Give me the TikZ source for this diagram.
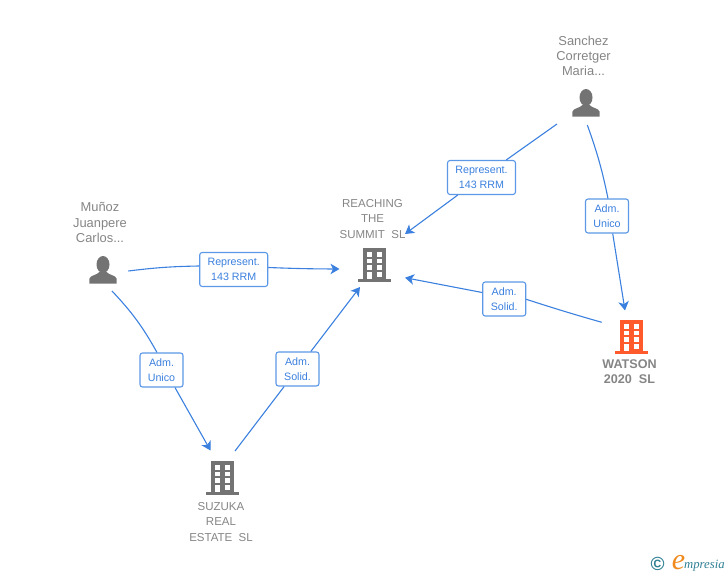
\documentclass[tikz,border=0pt]{standalone}
\usepackage{fontspec}
\setmainfont{Liberation Sans}
\newfontfamily\logofont{Liberation Serif}
\usetikzlibrary{arrows.meta}
\definecolor{linkblue}{HTML}{3B80DE}
\definecolor{boxblue}{HTML}{5C98E6}
\definecolor{namegray}{HTML}{858585}
\definecolor{icongray}{HTML}{737373}
\definecolor{iconorange}{HTML}{FF5A2B}
\definecolor{logoteal}{HTML}{2F7F93}
\definecolor{logoorange}{HTML}{F08A1D}
\tikzset{
  pics/buildingicon/.style={code={
    \fill[#1] (-11.5,-17) rectangle (11.5,14);
    \fill[#1] (-16.5,14) rectangle (16.5,17);
    \foreach \wy in {-13,-6.5,0}{
      \fill[white] (-7.8,\wy) rectangle (-2.8,\wy+4.8);
      \fill[white] (2.2,\wy) rectangle (7.2,\wy+4.8);
    }
    \fill[white] (-7.8,6.5) rectangle (-2.8,14);
    \fill[white] (2.2,6.5) rectangle (7.2,11.5);
  }},
  pics/personicon/.style={code={
    \fill[#1] (0,-5.5) ellipse (6.5 and 8.5);
    \fill[#1] (-13.7,13.7) -- (-13.5,8.5) .. controls (-13,5.5) and (-6,5) .. (-3.5,2) -- (3.5,2) .. controls (6,5) and (13,5.5) .. (13.5,8.5) -- (13.7,13.7) -- cycle;
  }}
}
\begin{document}
\begin{tikzpicture}[x=1pt,y=-1pt]
\tikzstyle{namestyle}=[text=namegray, align=center, inner sep=0pt, font=\fontsize{12.9}{15.3}\selectfont]
\tikzstyle{firmstyle}=[namestyle, font=\fontsize{11.5}{15.3}\selectfont]
\tikzstyle{iconstyle}=[minimum width=34pt, minimum height=34pt, inner sep=0pt]
\tikzstyle{linkstyle}=[draw=boxblue, fill=white, text=linkblue, rounded corners=2.5pt, line width=1.1pt, align=center, inner sep=0pt, minimum width=43pt, minimum height=34pt, font=\fontsize{10.7}{15}\selectfont]
\tikzstyle{wirestyle}=[draw=linkblue, line width=1.1pt]
\tikzstyle{arrowstyle}=[wirestyle, -{Stealth[length=9pt,width=10.5pt,inset=2.5pt]}]
    \useasboundingbox (0,0) rectangle (728,575);
    % companies and people
    \node[iconstyle] (munoz) at (103,270) {};
    \node[iconstyle] (sanchez) at (586,103) {};
    \node[iconstyle] (reaching) at (374.5,265) {};
    \node[iconstyle] (watson) at (631.5,337) {};
    \node[iconstyle] (suzuka) at (222.5,478) {};
    \pic at (munoz) {personicon=icongray};
    \pic at (sanchez) {personicon=icongray};
    \pic at (reaching) {buildingicon=icongray};
    \pic at (watson) {buildingicon=iconorange};
    \pic at (suzuka) {buildingicon=icongray};
    \node[namestyle] (munozname) at (100,222.5) {Muñoz\\Juanpere\\Carlos...};
    \node[namestyle] (sanchezname) at (583.5,56) {Sanchez\\Corretger\\Maria...};
    \node[firmstyle] (reachingname) at (372.5,219) {REACHING\\THE\\SUMMIT\ \ SL};
    \node[firmstyle, font=\bfseries\fontsize{12.6}{15.3}\selectfont] (watsonname) at (629.5,372) {WATSON\\2020\ \ SL};
    \node[firmstyle] (suzukaname) at (221,522) {SUZUKA\\REAL\\ESTATE\ \ SL};
    % labels on the links
    \node[linkstyle, minimum width=68pt] (rep1) at (233.7,269.5) {Represent.\\143 RRM};
    \node[linkstyle, minimum width=68pt] (rep2) at (481.5,177.5) {Represent.\\143 RRM};
    \node[linkstyle] (adm1) at (161.5,370) {Adm.\\Unico};
    \node[linkstyle] (adm2) at (607,216) {Adm.\\Unico};
    \node[linkstyle] (sol1) at (297.5,369) {Adm.\\Solid.};
    \node[linkstyle] (sol2) at (504.2,299) {Adm.\\Solid.};
    % links
    \draw[wirestyle] ([xshift=25.3pt,yshift=-1pt]munoz.center) to[bend left=3] ([yshift=3.5pt]rep1.west);
    \draw[arrowstyle] ([yshift=2pt]rep1.east) to[bend right=1] ([xshift=-35pt,yshift=-4pt]reaching.center);
    \draw[wirestyle] ([xshift=9pt,yshift=-21pt]munoz.center) to[bend left=7] ([xshift=-4.5pt]adm1.north);
    \draw[arrowstyle] ([xshift=13.5pt]adm1.south) -- ([xshift=-12pt,yshift=27.5pt]suzuka.center);
    \draw[wirestyle] ([xshift=12.5pt,yshift=27pt]suzuka.center) -- (sol1);
    \draw[arrowstyle] (sol1) -- ([xshift=-14.5pt,yshift=-22pt]reaching.center);
    \draw[wirestyle] ([xshift=-29pt,yshift=-21pt]sanchez.center) -- (rep2);
    \draw[arrowstyle] (rep2) -- ([xshift=30.5pt,yshift=31pt]reaching.center);
    \draw[wirestyle] ([xshift=1.3pt,yshift=-22pt]sanchez.center) to[bend left=4] ([xshift=1pt]adm2.north);
    \draw[arrowstyle] ([xshift=5.7pt]adm2.south) -- ([xshift=-6.5pt,yshift=26.5pt]watson.center);
    \draw[wirestyle] ([xshift=-29.8pt,yshift=14.7pt]watson.center) to[bend left=1] ([yshift=-0.3pt]sol2.east);
    \draw[arrowstyle] ([yshift=6.5pt]sol2.west) -- ([xshift=30.5pt,yshift=-12.7pt]reaching.center);
    % logo
    \node[text=logoteal, inner sep=0pt, font=\bfseries\fontsize{19}{19}\selectfont] (logoc) at (657.7,564) {©};
    \node[text=logoorange, inner sep=0pt, font=\logofont\itshape\fontsize{30}{30}\selectfont] (logoe) at (678.5,563) {e};
    \node[text=logoteal, inner sep=0pt, anchor=base west, font=\logofont\itshape\fontsize{12.7}{12.7}\selectfont] (logotext) at (684,568) {mpresia};
\end{tikzpicture}
\end{document}
